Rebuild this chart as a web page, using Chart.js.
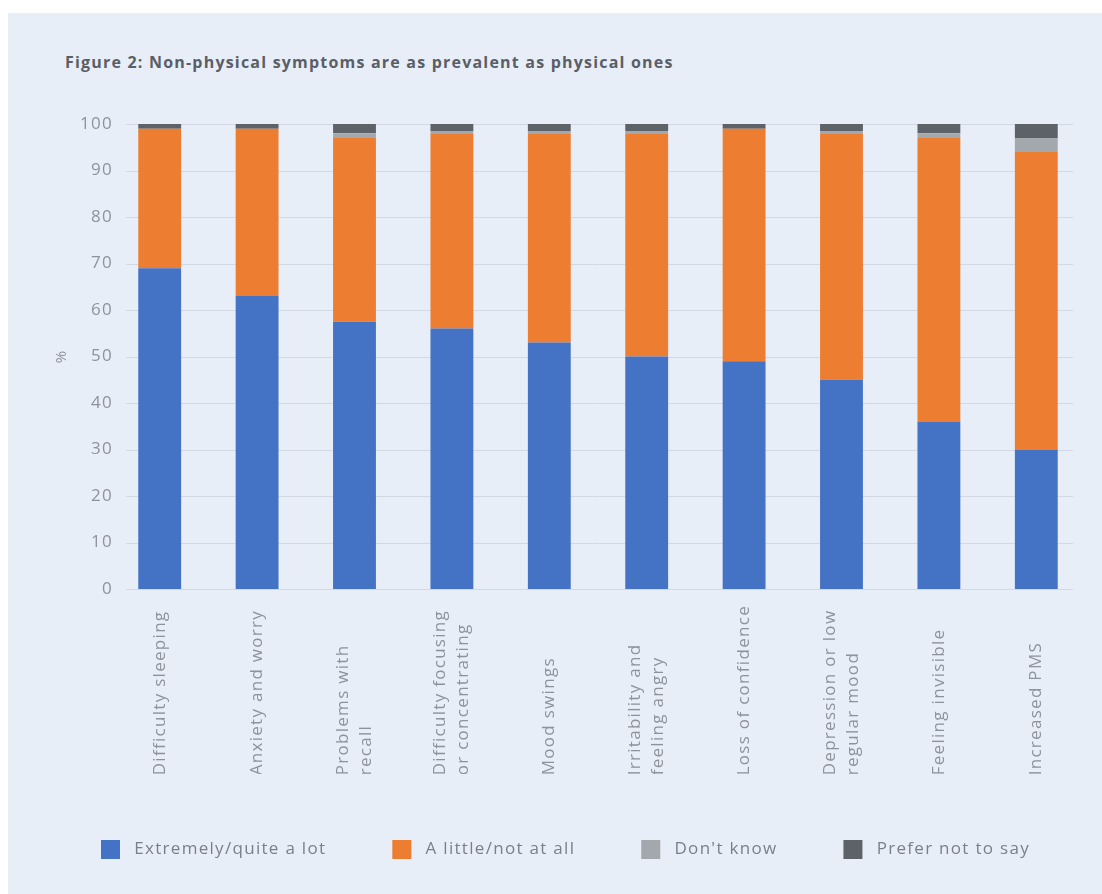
<!DOCTYPE html>
<html>
<head>
<meta charset="utf-8">
<script src="https://cdn.jsdelivr.net/npm/chart.js@4.4.1/dist/chart.umd.min.js"></script>
<style>
  html, body { margin: 0; padding: 0; background: #ffffff; width: 1102px; height: 894px; overflow: hidden; }
  #panel { position: absolute; left: 8px; top: 13px; right: 0; bottom: 0; background: #e8eef8; }
  #title { position: absolute; left: 65px; top: 51px; font: bold 16px "Open Sans", sans-serif; color: #5b5e66; letter-spacing: 1.2px; white-space: nowrap; }
  #wrap { position: absolute; left: 0; top: 0; width: 1102px; height: 894px; }
</style>
</head>
<body>
<div id="panel"></div>
<div id="title">Figure 2: Non-physical symptoms are as prevalent as physical ones</div>
<div id="wrap"><canvas id="c" width="1102" height="894"></canvas></div>
<script>
// Symptom categories (multi-line labels as arrays)
const categories = [
  ["Difficulty sleeping"],
  ["Anxiety and worry"],
  ["Problems with", "recall"],
  ["Difficulty focusing", "or concentrating"],
  ["Mood swings"],
  ["Irritability and", "feeling angry"],
  ["Loss of confidence"],
  ["Depression or low", "regular mood"],
  ["Feeling invisible"],
  ["Increased PMS"]
];

// Share of respondents (%) per response
const extremelyQuiteALot = [69, 63, 57.5, 56, 53, 50, 49, 45, 36, 30];
const aLittleNotAtAll    = [30, 36, 39.5, 42, 45, 48, 50, 53, 61, 64];
const dontKnow           = [0, 0, 1, 0.5, 0.5, 0.5, 0, 0.5, 1, 3];
const preferNotToSay     = [1, 1, 2, 1.5, 1.5, 1.5, 1, 1.5, 2, 3];

const seriesNames = ["Extremely/quite a lot", "A little/not at all", "Don't know", "Prefer not to say"];
const seriesColors = ["#4472c4", "#ed7d31", "#a3a8ad", "#5d6268"];

const yMin = 0, yMax = 100, yStep = 10;

const tickColor = "#8e929a";
const fontFamily = "'Open Sans', sans-serif";
const textSpacing = "1.3px";

// Wide tracking for all canvas text
const tracking = {
  id: "tracking",
  beforeUpdate(chart) { chart.ctx.letterSpacing = textSpacing; },
  beforeDraw(chart) { chart.ctx.letterSpacing = textSpacing; }
};

// Nudge the legend row so it sits under the plot rather than the whole canvas
const legendShift = {
  id: "legendShift",
  afterLayout(chart) {
    const lg = chart.legend;
    if (!lg) return;
    lg.left += 13;
    lg.right += 13;
  }
};

// Category labels: anchored at their start (bottom), multi-line labels centred on the tick
const bottomAnchoredLabels = {
  id: "bottomAnchoredLabels",
  beforeDraw(chart) {
    const s = chart.scales.x;
    const items = s.getLabelItems();
    if (items._anchored) return;
    const widest = s._getLabelSizes().widest.width;
    items.forEach(it => {
      const n = Array.isArray(it.label) ? it.label.length : 1;
      it.options.textAlign = "left";
      it.options.translation[1] += widest;
      it.options.translation[0] -= (n - 1) * it.font.lineHeight / 2;
    });
    items._anchored = true;
  }
};

// Horizontal gridlines, inset a little from both ends of the plot
const gridLines = {
  id: "gridLines",
  beforeDatasetsDraw(chart) {
    const { ctx, chartArea, scales } = chart;
    const y = scales.y;
    ctx.save();
    ctx.strokeStyle = "#d2d9e5";
    ctx.lineWidth = 1;
    y.ticks.forEach(t => {
      const py = Math.round(y.getPixelForValue(t.value)) + 0.5;
      ctx.beginPath();
      ctx.moveTo(chartArea.left + 15, py);
      ctx.lineTo(chartArea.right - 12, py);
      ctx.stroke();
    });
    ctx.restore();
  }
};

const values = [extremelyQuiteALot, aLittleNotAtAll, dontKnow, preferNotToSay];

new Chart(document.getElementById("c"), {
  type: "bar",
  data: {
    labels: categories,
    datasets: values.map((v, i) => ({
      label: seriesNames[i],
      data: v,
      backgroundColor: seriesColors[i],
      borderWidth: 0,
      barPercentage: 0.88,
      categoryPercentage: 0.5
    }))
  },
  options: {
    responsive: false,
    animation: false,
    layout: { padding: { left: 20, right: 17, top: 124, bottom: 25 } },
    plugins: {
      legend: {
        position: "bottom",
        labels: {
          boxWidth: 19,
          boxHeight: 19,
          padding: 66,
          color: "#7b7f88",
          font: { family: fontFamily, size: 17 },
          generateLabels(chart) {
            return Chart.defaults.plugins.legend.labels.generateLabels(chart)
              .map(l => Object.assign(l, { text: " " + l.text }));
          }
        }
      },
      title: { display: false },
      tooltip: { enabled: false }
    },
    scales: {
      x: {
        stacked: true,
        grid: { display: false, drawTicks: false },
        border: { display: false },
        ticks: {
          minRotation: 90,
          maxRotation: 90,
          autoSkip: false,
          padding: 16,
          color: tickColor,
          font: { family: fontFamily, size: 17, lineHeight: 1.35 }
        },
        afterFit(scale) { scale.height = 185; }
      },
      y: {
        stacked: true,
        min: yMin,
        max: yMax,
        grid: { display: false, drawTicks: false },
        border: { display: false },
        ticks: {
          stepSize: yStep,
          padding: -2,
          color: tickColor,
          font: { family: fontFamily, size: 17 }
        },
        title: {
          display: true,
          text: "%",
          color: tickColor,
          font: { family: fontFamily, size: 15 },
          padding: { top: 33, bottom: 0 }
        },
        afterFit(scale) { scale.width = 91; }
      }
    }
  },
  plugins: [tracking, legendShift, bottomAnchoredLabels, gridLines]
});
</script>
</body>
</html>
